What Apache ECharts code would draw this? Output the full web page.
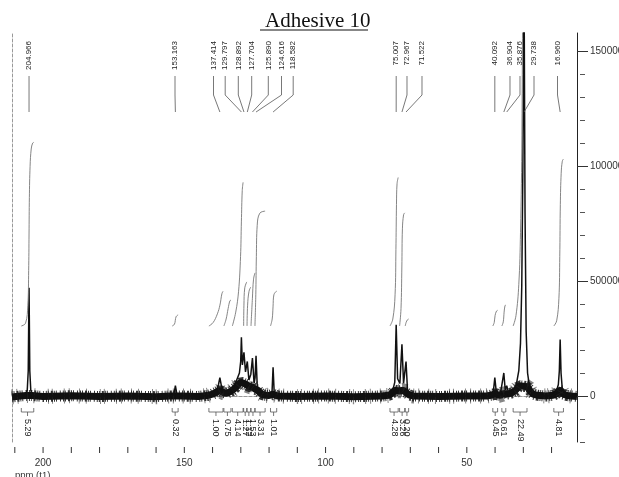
<!DOCTYPE html>
<html>
<head>
<meta charset="utf-8">
<script src="https://cdn.jsdelivr.net/npm/echarts@6/dist/echarts.min.js"></script>
<style>
html,body{margin:0;padding:0;background:#fff}
#chart{width:619px;height:477px}
</style>
</head>
<body>
<div id="chart"></div>
<script>
// axis ticks / labels
var xTicks = [20,30,40,50,60,70,80,90,100,110,120,130,140,150,160,170,180,190,200,210];
var xLabels = [50,100,150,200];
var yMajor = [0,500000,1000000,1500000];
var yMinor = [-200000,-100000,100000,200000,300000,400000,600000,700000,800000,900000,1100000,1200000,1300000,1400000];

// peak picking
var peakPpm = [204.966,153.163,137.414,129.797,128.892,127.704,125.890,124.616,118.582,75.007,72.967,71.522,40.092,36.904,35.876,29.738,16.960];
var peakText = ['204.966','153.163','137.414','129.797','128.892','127.704','125.890','124.616','118.582','75.007','72.967','71.522','40.092','36.904','35.876','29.738','16.960'];
var peakLabelPpm = [204.97,153.3,139.67,135.53,130.89,126.15,120.27,115.6,111.46,75.0,71.18,65.87,40.09,34.72,31.18,26.22,17.9];

// integrals
var intRegions = [[207.7,203.3],[154.3,152.2],[141.3,136.3],[136.0,133.5],[133.0,129.2],[129.0,127.9],[127.8,126.5],[126.4,125.0],[125.0,121.4],[119.5,117.3],[77.2,74.3],[73.8,72.0],[71.8,70.6],[40.8,39.1],[37.6,36.2],[33.6,28.7],[19.2,15.8]];
var intText = ['5.29','0.32','1.00','0.75','4.14','1.27','1.12','1.53','3.31','1.01','4.28','3.26','0.20','0.45','0.61','22.49','4.81'];
var intCurves = [
  [[207.7,0],[206.2,0.08],[205.4,0.6],[205.1,1.6],[204.97,2.65],[204.85,3.7],[204.6,4.6],[204.2,5.1],[203.7,5.27],[203.3,5.29]],
  [[154.3,0],[153.5,0.05],[153.2,0.16],[152.9,0.27],[152.2,0.32]],
  [[141.3,0],[139.8,0.1],[138.3,0.35],[137.4,0.6],[136.7,0.93],[136.3,1.0]],
  [[136.0,0],[135.2,0.2],[134.5,0.5],[133.9,0.72],[133.5,0.75]],
  [[133.0,0],[131.8,0.4],[130.8,1.0],[130.1,2.0],[129.8,3.0],[129.5,3.9],[129.2,4.14]],
  [[129.0,0],[128.9,0.6],[128.6,1.1],[127.9,1.27]],
  [[127.8,0],[127.6,0.6],[127.1,1.0],[126.5,1.12]],
  [[126.4,0],[125.9,0.8],[125.5,1.35],[125.0,1.53]],
  [[125.0,0],[124.7,0.9],[124.5,2.0],[124.2,2.9],[123.3,3.25],[121.4,3.31]],
  [[119.5,0],[118.9,0.2],[118.6,0.55],[118.3,0.9],[117.3,1.01]],
  [[77.2,0],[76.2,0.2],[75.4,0.9],[75.1,2.2],[74.9,3.5],[74.7,4.1],[74.3,4.28]],
  [[73.8,0],[73.3,0.5],[73.0,1.7],[72.8,2.8],[72.4,3.2],[72.0,3.26]],
  [[71.8,0],[71.5,0.1],[71.0,0.18],[70.6,0.2]],
  [[40.8,0],[40.3,0.1],[40.0,0.3],[39.5,0.43],[39.1,0.45]],
  [[37.6,0],[37.1,0.12],[36.8,0.4],[36.5,0.58],[36.2,0.61]],
  [[33.6,0],[32.6,0.3],[31.6,1.2],[31.0,2.7],[30.5,5.5],[30.0,14],[29.5,20],[29.0,22.2],[28.7,22.49]],
  [[19.2,0],[18.2,0.15],[17.4,0.8],[17.1,2.0],[16.9,3.5],[16.6,4.4],[16.2,4.75],[15.8,4.81]]
];

// spectrum: broad baseline (noise band) and sharp peaks
var baseBand = [[211,-4000],[208,0],[206,2000],[204,2000],[200,-2000],[190,1000],[180,-2000],[170,0],[160,-3000],[155,0],[151,0],[145,-2000],[142,2000],[140,8000],[138.5,18000],[137.4,25000],[136.3,15000],[135,12000],[133.5,20000],[132,35000],[131,50000],[130,60000],[129,55000],[128,50000],[127,40000],[126,40000],[125,30000],[124,25000],[123,12000],[122,4000],[120,2000],[118.6,8000],[117,0],[110,-2000],[100,0],[90,-3000],[80,0],[77.5,3000],[76.5,12000],[75.5,25000],[74,22000],[72.5,25000],[71.5,15000],[70.5,5000],[69,0],[60,-2000],[50,0],[43,0],[41,4000],[40,12000],[39,4000],[38,3000],[37,12000],[36,8000],[35,10000],[34,14000],[33,22000],[32,35000],[31.5,45000],[28.5,40000],[27.5,20000],[26.5,8000],[25,3000],[22,0],[19.5,3000],[18,12000],[17.5,25000],[16.5,22000],[15.8,8000],[14.5,2000],[13,0],[11,-2000]];
var peakTrace = [
  [211,0],[206.3,0],[205.6,25000],[205.25,110000],[204.966,470000],[204.7,110000],[204.35,25000],[203.7,0],
  [155,0],[153.7,6000],[153.163,45000],[152.6,6000],[151.5,0],
  [140.5,0],[138.8,20000],[137.9,50000],[137.414,80000],[136.9,45000],[135.8,15000],[134.5,15000],
  [133,30000],[131.6,65000],[130.5,100000],[130.05,150000],[129.797,255000],[129.45,135000],[128.892,190000],[128.35,105000],[127.704,150000],[127.15,70000],[126.45,95000],[125.89,165000],[125.3,55000],[124.95,80000],[124.616,175000],[124.2,45000],[123.3,15000],[122,0],
  [119.6,0],[118.95,18000],[118.582,125000],[118.2,18000],[117.4,0],
  [77.8,0],[76.4,15000],[75.5,60000],[75.007,310000],[74.5,75000],[73.7,55000],[72.967,225000],[72.4,55000],[71.522,150000],[71.0,25000],[70.0,0],
  [42,0],[40.7,8000],[40.092,80000],[39.5,8000],[38.2,3000],[37.5,10000],[36.904,100000],[36.4,25000],[35.876,45000],[35.3,18000],
  [34.2,15000],[33.2,30000],[32.4,55000],[31.6,110000],[31.0,230000],[30.55,480000],[30.15,1000000],[29.738,1800000],[29.4,800000],[29.0,280000],[28.5,100000],[27.8,40000],[26.8,10000],[25.5,0],
  [20,0],[18.5,12000],[17.6,50000],[17.25,110000],[16.96,245000],[16.65,100000],[16.2,30000],[15.2,5000],[14,0],[11,0]
];

var chart = echarts.init(document.getElementById('chart'));

var frameLine = {color: '#999', type: [3, 2], width: 1};
var xBase = {type: 'value', min: 11, max: 211, inverse: true, gridIndex: 0, splitLine: {show: false}};
var yBase = {type: 'value', min: -200000, max: 1578000, gridIndex: 0, splitLine: {show: false}};

function peakLabelItem(params, api) {
    var px = api.coord([api.value(0), 0])[0];
    var lx = api.coord([api.value(1), 0])[0];
    var top = params.coordSys.y;
    return {
        type: 'group',
        children: [
            {type: 'text', x: lx, y: top + 8, rotation: Math.PI / 2,
             style: {text: peakText[params.dataIndex], align: 'right', verticalAlign: 'middle',
                     font: '8px "Liberation Sans"', fill: '#222'}},
            {type: 'polyline', shape: {points: [[lx, top + 43], [lx, top + 62], [px, top + 79]]},
             style: {stroke: '#555', lineWidth: 0.8, fill: null}}
        ]
    };
}

function integralItem(params, api) {
    var x1 = api.coord([api.value(0), 0])[0];
    var x2 = api.coord([api.value(1), 0])[0];
    var xc = (x1 + x2) / 2;
    var top = params.coordSys.y;
    var yb = top + 379;
    return {
        type: 'group',
        children: [
            {type: 'polyline', shape: {points: [[x1, yb - 4], [x1, yb], [x2, yb], [x2, yb - 4]]},
             style: {stroke: '#555', lineWidth: 0.8, fill: null}},
            {type: 'line', shape: {x1: xc, y1: yb, x2: xc, y2: yb + 4}, style: {stroke: '#555', lineWidth: 0.8}},
            {type: 'text', x: xc, y: yb + 7, rotation: -Math.PI / 2,
             style: {text: intText[params.dataIndex], align: 'left', verticalAlign: 'middle',
                     font: '9px "Liberation Sans"', fill: '#222'}}
        ]
    };
}

// ppm ticks sit a little below the frame, drawn on the x scale
function xTickItem(params, api) {
    var x = api.coord([api.value(0), 0])[0];
    var bottom = params.coordSys.y + params.coordSys.height;
    return {type: 'line', shape: {x1: x, y1: bottom + 5, x2: x, y2: bottom + 11},
            style: {stroke: '#333', lineWidth: 1}};
}

var series = [
    {type: 'line', name: 'band', data: baseBand, showSymbol: false, symbol: 'none', yAxisIndex: 0,
     lineStyle: {color: '#111', width: 7}, z: 2},
    {type: 'line', name: 'noise', data: baseBand, showSymbol: false, symbol: 'none', yAxisIndex: 0,
     lineStyle: {color: '#111', width: 11, type: [1, 1, 1, 2, 2, 1, 1, 1, 1, 3, 1, 2], opacity: 0.85}, z: 2},
    {type: 'line', name: 'spikes', data: baseBand, showSymbol: false, symbol: 'none', yAxisIndex: 0,
     lineStyle: {color: '#222', width: 15, type: [1, 4, 1, 9, 1, 6, 1, 13, 1, 3, 1, 11], opacity: 0.55}, z: 2},
    {type: 'line', name: 'peaks', data: peakTrace, showSymbol: false, symbol: 'none', yAxisIndex: 0,
     lineStyle: {color: '#111', width: 1.5}, z: 3},
    {type: 'custom', name: 'peakLabels', renderItem: peakLabelItem, yAxisIndex: 0,
     data: peakPpm.map(function (p, i) { return [p, peakLabelPpm[i]]; }), z: 4},
    {type: 'custom', name: 'integralLabels', renderItem: integralItem, yAxisIndex: 0,
     data: intRegions, z: 4},
    {type: 'custom', name: 'xTicks', renderItem: xTickItem, yAxisIndex: 0,
     data: xTicks.map(function (t) { return [t, 0]; }), z: 4}
];
intCurves.forEach(function (c) {
    series.push({type: 'line', data: c, smooth: 0.4, showSymbol: false, symbol: 'none', yAxisIndex: 3,
                 lineStyle: {color: '#777', width: 0.9}, z: 3});
});

chart.setOption({
    animation: false,
    backgroundColor: '#fff',
    title: {
        text: 'Adhesive 10', left: 260, top: 6,
        textStyle: {fontFamily: 'Liberation Serif', fontSize: 21, fontWeight: 'normal', color: '#111'}
    },
    graphic: [
        {type: 'line', shape: {x1: 260, y1: 30, x2: 368, y2: 30}, style: {stroke: '#111', lineWidth: 1.2}},
        {type: 'text', left: 15, top: 470, style: {text: 'ppm (t1)', font: '9.5px "Liberation Sans"', fill: '#333'}}
    ],
    grid: {left: 12, right: 42, top: 33, bottom: 35, outerBoundsMode: 'none', containLabel: false},
    xAxis: [
        Object.assign({}, xBase, {position: 'bottom', axisLine: {lineStyle: frameLine},
            axisTick: {show: false}, axisLabel: {show: false}}),
        Object.assign({}, xBase, {position: 'bottom', offset: 5, axisLine: {show: false},
            axisTick: {show: false},
            axisLabel: {customValues: xLabels, margin: 11, fontSize: 10, color: '#333', fontFamily: 'Liberation Sans'}}),
        Object.assign({}, xBase, {position: 'top', axisLine: {lineStyle: frameLine},
            axisTick: {show: false}, axisLabel: {show: false}})
    ],
    yAxis: [
        Object.assign({}, yBase, {position: 'right', axisLine: {show: true, lineStyle: {color: '#222', width: 1}},
            axisTick: {customValues: yMajor, length: 11, lineStyle: {color: '#333'}},
            axisLabel: {customValues: yMajor, margin: 13, fontSize: 10, color: '#333', fontFamily: 'Liberation Sans',
                        formatter: function (v) { return String(v); }}}),
        Object.assign({}, yBase, {position: 'right', offset: 3, axisLine: {show: false},
            axisTick: {customValues: yMinor, length: 5, lineStyle: {color: '#555'}}, axisLabel: {show: false}}),
        Object.assign({}, yBase, {position: 'left', axisLine: {show: true, lineStyle: frameLine},
            axisTick: {show: false}, axisLabel: {show: false}}),
        {type: 'value', min: -3.343, max: 8.444, gridIndex: 0, show: false, splitLine: {show: false}}
    ],
    series: series
});
</script>
</body>
</html>
